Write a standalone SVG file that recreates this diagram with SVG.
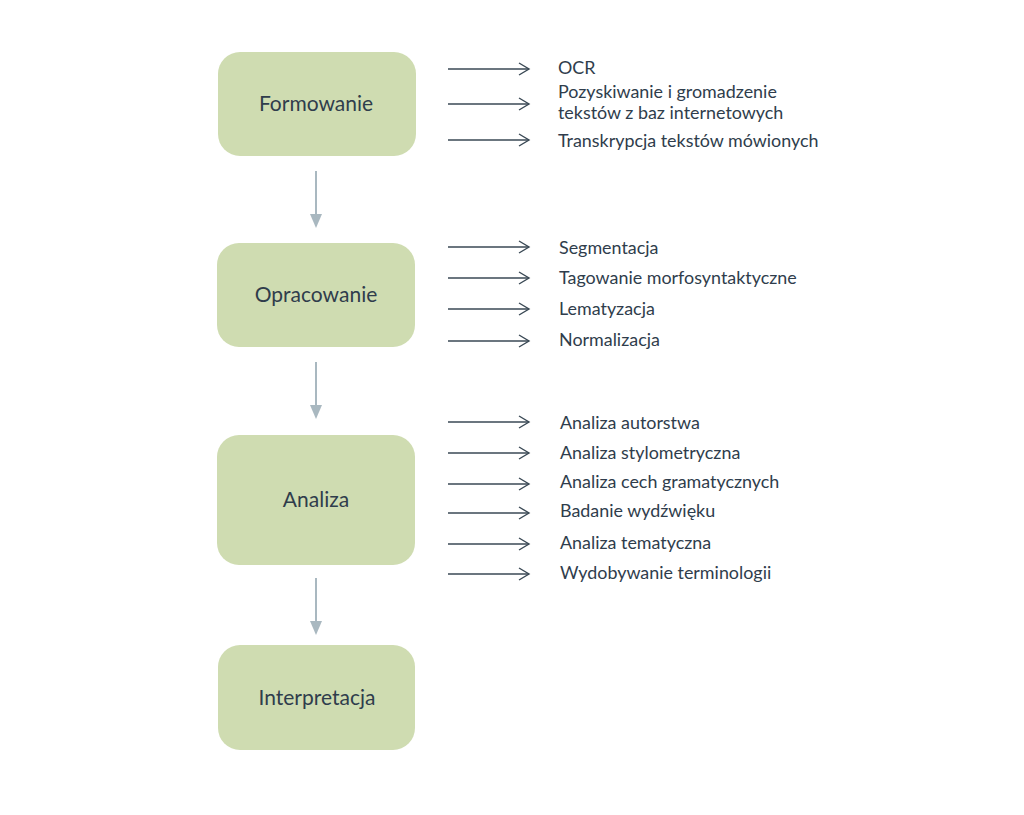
<svg xmlns="http://www.w3.org/2000/svg" width="1024" height="815" viewBox="0 0 1024 815">
<defs>
<style>
.box{fill:#cfdcb1}
.bl{font-family:Lato,"Open Sans","Liberation Sans",sans-serif;font-size:21px;fill:#2f3d4c;text-anchor:middle}
.t{font-family:Lato,"Open Sans","Liberation Sans",sans-serif;font-size:17.9px;fill:#2f3d4c}
.h{stroke:#3a4955;stroke-width:1.4;fill:none}
.v{stroke:#a9b8c0;stroke-width:2;fill:none}
</style>
<marker id="open" markerWidth="14" markerHeight="14" refX="12" refY="7" orient="auto" markerUnits="userSpaceOnUse">
<path d="M2,1 L12,7 L2,13" fill="none" stroke="#3a4955" stroke-width="1.4"/>
</marker>
</defs>
<rect width="1024" height="815" fill="#ffffff"/>
<g id="connectors">
<line class="v" x1="316" y1="171" x2="316" y2="215"/>
<path d="M310,214 L322,214 L316,228 Z" fill="#a9b8c0"/>
<line class="v" x1="316" y1="362" x2="316" y2="406"/>
<path d="M310,405 L322,405 L316,419 Z" fill="#a9b8c0"/>
<line class="v" x1="316" y1="578" x2="316" y2="622"/>
<path d="M310,621 L322,621 L316,635 Z" fill="#a9b8c0"/>
<line class="h" x1="448" y1="69" x2="529" y2="69" marker-end="url(#open)"/>
<line class="h" x1="448" y1="104" x2="529" y2="104" marker-end="url(#open)"/>
<line class="h" x1="448" y1="140" x2="529" y2="140" marker-end="url(#open)"/>
<line class="h" x1="448" y1="247" x2="529" y2="247" marker-end="url(#open)"/>
<line class="h" x1="448" y1="278" x2="529" y2="278" marker-end="url(#open)"/>
<line class="h" x1="448" y1="309" x2="529" y2="309" marker-end="url(#open)"/>
<line class="h" x1="448" y1="341" x2="529" y2="341" marker-end="url(#open)"/>
<line class="h" x1="448" y1="422" x2="529" y2="422" marker-end="url(#open)"/>
<line class="h" x1="448" y1="453" x2="529" y2="453" marker-end="url(#open)"/>
<line class="h" x1="448" y1="484" x2="529" y2="484" marker-end="url(#open)"/>
<line class="h" x1="448" y1="513" x2="529" y2="513" marker-end="url(#open)"/>
<line class="h" x1="448" y1="544" x2="529" y2="544" marker-end="url(#open)"/>
<line class="h" x1="448" y1="574" x2="529" y2="574" marker-end="url(#open)"/>
</g>
<g id="formowanie">
<rect class="box" x="218" y="52" width="198" height="104" rx="22"/>
<text class="bl" x="316" y="111">Formowanie</text>
</g>
<g id="opracowanie">
<rect class="box" x="217" y="243" width="198" height="104" rx="22"/>
<text class="bl" x="316" y="302">Opracowanie</text>
</g>
<g id="analiza">
<rect class="box" x="217" y="435" width="198" height="130" rx="22"/>
<text class="bl" x="316" y="507">Analiza</text>
</g>
<g id="interpretacja">
<rect class="box" x="218" y="645" width="197" height="105" rx="22"/>
<text class="bl" x="317" y="705">Interpretacja</text>
</g>
<g id="formowanie-items">
<text class="t" x="558" y="74">OCR</text>
<text class="t" x="558" y="98">Pozyskiwanie i gromadzenie</text>
<text class="t" x="558" y="118.5">tekstów z baz internetowych</text>
<text class="t" x="558" y="147">Transkrypcja tekstów mówionych</text>
</g>
<g id="opracowanie-items">
<text class="t" x="559" y="254">Segmentacja</text>
<text class="t" x="559" y="284">Tagowanie morfosyntaktyczne</text>
<text class="t" x="559" y="315">Lematyzacja</text>
<text class="t" x="559" y="346">Normalizacja</text>
</g>
<g id="analiza-items">
<text class="t" x="560" y="429">Analiza autorstwa</text>
<text class="t" x="560" y="459">Analiza stylometryczna</text>
<text class="t" x="560" y="488">Analiza cech gramatycznych</text>
<text class="t" x="560" y="517">Badanie wydźwięku</text>
<text class="t" x="560" y="549">Analiza tematyczna</text>
<text class="t" x="560" y="579">Wydobywanie terminologii</text>
</g>
</svg>
